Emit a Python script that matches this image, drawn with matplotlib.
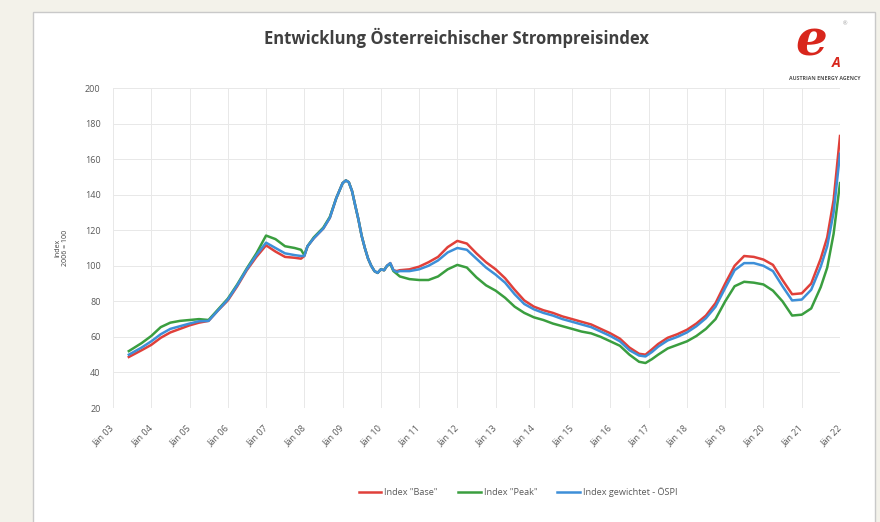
"""
Entwicklung Österreichischer Strompreisindex (ÖSPI) – Nachbau der AEA-Grafik
"""

import pandas as pd
import matplotlib.pyplot as plt
from matplotlib.patches import Rectangle

# ── Data ─────────────────────────────────────────────────────────────────────
months = [
    "2003-06", "2003-10", "2004-01", "2004-04", "2004-07", "2004-10", "2005-01", "2005-04",
    "2005-07", "2005-10", "2006-01", "2006-04", "2006-07", "2006-10", "2007-01", "2007-04",
    "2007-07", "2007-10", "2007-12", "2008-01", "2008-02", "2008-04", "2008-07", "2008-09",
    "2008-11", "2009-01", "2009-02", "2009-03", "2009-04", "2009-05", "2009-06", "2009-07",
    "2009-08", "2009-09", "2009-10", "2009-11", "2009-12", "2010-01", "2010-02", "2010-03",
    "2010-04", "2010-05", "2010-06", "2010-07", "2010-10", "2011-01", "2011-04", "2011-07",
    "2011-10", "2012-01", "2012-04", "2012-07", "2012-10", "2013-01", "2013-04", "2013-07",
    "2013-10", "2014-01", "2014-04", "2014-07", "2014-10", "2015-01", "2015-04", "2015-07",
    "2015-10", "2016-01", "2016-04", "2016-07", "2016-10", "2016-12", "2017-02", "2017-04",
    "2017-07", "2017-10", "2018-01", "2018-04", "2018-07", "2018-10", "2019-01", "2019-04",
    "2019-07", "2019-10", "2020-01", "2020-04", "2020-07", "2020-10", "2021-01", "2021-04",
    "2021-07", "2021-09", "2021-11", "2022-01",
]

index_base = [
    48.7, 52.5, 55.5, 59.5, 62.5, 64.5, 66.5, 68,
    69, 75, 80.5, 88.5, 97.5, 105, 111.5, 108,
    105, 104.5, 104, 105.5, 111, 115.5, 121, 127,
    138, 146.5, 148, 147, 142, 134, 126, 117,
    110, 104, 100, 97, 96, 98, 97.5, 100,
    101.5, 97.5, 97, 97.5, 98, 99.5, 102, 105,
    110.5, 114, 112.5, 107, 102, 98, 93, 86.5,
    80.5, 77, 75, 73.5, 71.5, 70, 68.5, 67,
    64.5, 62, 59, 54, 50.5, 50, 53, 56,
    59.5, 61.5, 64, 67.5, 72, 79, 90, 100,
    105.5, 105, 103.5, 100.5, 92, 84, 84.5, 90,
    104, 116, 137, 173,
]

index_peak = [
    52, 56.5, 60.5, 65.5, 68, 69, 69.5, 70,
    69.5, 75.5, 81.5, 89.5, 98.5, 107, 117, 115,
    111, 110, 109, 106, 111, 116, 121.5, 127.5,
    138, 146.5, 148, 147, 142, 134, 126, 117,
    110, 104, 100, 97, 96, 98, 97.5, 100,
    101, 97, 95.5, 94, 92.5, 92, 92, 94,
    98, 100.5, 99, 93.5, 89, 86, 82, 77,
    73.5, 71, 69.5, 67.5, 66, 64.5, 63, 62,
    60, 57.5, 55, 50, 46, 45.3, 47.5, 50,
    53.5, 55.5, 57.5, 60.5, 64.5, 70, 80, 88.5,
    91, 90.5, 89.5, 86, 80, 72, 72.5, 76,
    88, 99, 118, 146.5,
]

index_ospi = [
    50, 54, 57.5, 61.5, 64.5, 66, 67.5, 68.8,
    69, 75, 81, 89, 98, 106, 113, 110,
    107, 106, 105.5, 105.5, 111, 115.5, 121, 127,
    138, 146.5, 148, 147, 142, 134, 126, 117,
    110, 104, 100, 97, 96, 98, 97.5, 100,
    101.5, 97.5, 96.5, 97, 97, 98, 100, 103,
    107.5, 110, 109, 104, 99, 95, 90.5, 84,
    78.5, 75.5, 73.5, 72, 70, 68.5, 67, 65.5,
    63, 60.5, 57.5, 52.5, 49.5, 49, 51.5, 54.5,
    58, 60, 62.5, 66, 70.5, 77, 87.5, 97.5,
    101.5, 101.5, 100, 97, 88.5, 80.5, 81, 86.5,
    99.5, 111, 130, 163,
]

series_labels = ['Index "Base"', 'Index "Peak"', "Index gewichtet - ÖSPI"]
series_colors = ["#e0403a", "#3a9e3f", "#3d8fd8"]
tick_years = list(range(2003, 2023))
tick_labels = [f"Jän {y % 100:02d}" for y in tick_years]
y_ticks = list(range(20, 201, 20))

plt.rcParams["font.family"] = ["Open Sans", "DejaVu Sans"]

# ── Figure ───────────────────────────────────────────────────────────────────
W, H = 880, 522
fig = plt.figure(figsize=(W / 100, H / 100), dpi=100, facecolor="#f3f2ea")

# white chart panel with thin grey border
fig.add_artist(Rectangle((33 / W, -0.05), (875 - 33) / W, (H - 12) / H + 0.05,
                         transform=fig.transFigure, facecolor="white",
                         edgecolor="#c9c9c9", linewidth=1.0, zorder=0))

ax = fig.add_axes([113 / W, 1 - 408 / H, (840 - 113) / W, (408 - 88) / H])
ax.set_facecolor("none")

dates = pd.to_datetime(months)
for vals, lab, col in zip([index_base, index_peak, index_ospi], series_labels, series_colors):
    ax.plot(dates, vals, color=col, linewidth=1.8, label=lab, solid_joinstyle="round")

ax.set_xlim(pd.Timestamp("2003-01-01"), pd.Timestamp("2022-01-01"))
ax.set_ylim(20, 200)
ax.set_yticks(y_ticks)
ax.set_xticks(pd.to_datetime([f"{y}-01-01" for y in tick_years]))
ax.set_xticklabels(tick_labels, rotation=45, ha="right", va="center",
                   rotation_mode="anchor")

for s in ax.spines.values():
    s.set_visible(False)
ax.grid(True, color="#e8e8e8", linewidth=0.7)
ax.set_axisbelow(True)
ax.tick_params(axis="both", length=0, labelsize=6.5, colors="#595959")
ax.tick_params(axis="y", pad=9)
ax.tick_params(axis="x", pad=13)

ax.set_ylabel("Index\n2006 = 100", fontsize=5, color="#404040", labelpad=11,
              linespacing=1.2)

# ── Title, logo, legend ──────────────────────────────────────────────────────
fig.text(456 / W, 1 - 38 / H, "Entwicklung Österreichischer Strompreisindex",
         ha="center", va="center", fontsize=12, fontweight="bold", color="#404040")

# logo: red "e" with small "A", agency name underneath
fig.text(811 / W, 1 - 42 / H, "e", ha="center", va="center", fontsize=36,
         fontstyle="italic", fontweight="bold", color="#d8261c",
         family=["DejaVu Serif"])
fig.text(836 / W, 1 - 63 / H, "A", ha="center", va="center", fontsize=10,
         fontstyle="italic", fontweight="bold", color="#d8261c")
fig.text(845 / W, 1 - 24 / H, "®", ha="center", va="center", fontsize=4, color="#999999")
fig.text(825 / W, 1 - 78 / H, "AUSTRIAN ENERGY AGENCY", ha="center", va="center",
         fontsize=3.8, fontweight="bold", color="#555555")

fig.legend(loc="center", bbox_to_anchor=(518 / W, 1 - 492 / H), ncol=3,
           frameon=False, fontsize=6.6, handlelength=2.5, handletextpad=0.3,
           columnspacing=2.2, labelcolor="#595959")

plt.savefig("out.png", dpi=100, facecolor=fig.get_facecolor())
plt.close()
